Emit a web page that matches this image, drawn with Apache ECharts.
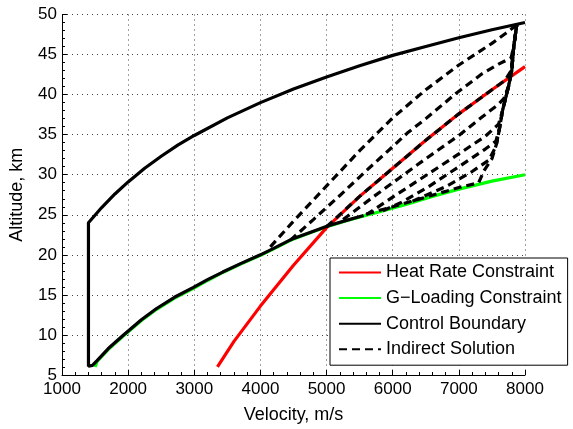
<!DOCTYPE html>
<html><head><meta charset="utf-8">
<script src="https://cdn.jsdelivr.net/npm/echarts@6/dist/echarts.min.js"></script>
<style>html,body{margin:0;padding:0;background:#fff}#c{width:573px;height:429px}</style>
</head><body><div id="c"></div>
<script>
// Control boundary (upper and lower edges)
const upperV = [1400,1600,1800,2000,2250,2500,2750,3000,3500,4000,4500,5000,5500,6000,6500,7000,7500,8000];
const upperH = [24.0,25.9,27.6,29.1,30.8,32.3,33.7,34.9,37.1,39.0,40.7,42.2,43.6,44.9,46.0,47.1,48.1,49.0];
const lowerV = [1400,1460,1530,1700,1930,2200,2430,2700,2980,3200,3430,3700,4000,4200,4460,4750,5015,5300,5560];
const lowerH = [6.1,6.2,6.8,8.3,10.0,11.9,13.3,14.7,15.9,16.9,17.85,18.9,20.0,20.8,21.9,22.8,23.6,24.3,24.9];
// G-loading constraint
const gV = [1500,1530,1700,1930,2200,2430,2700,2980,3200,3430,3700,4000,4200,4460,4750,5015,5300,5560,5817,6200,6600,7000,7500,8000];
const gH = [6.0,6.7,8.2,9.9,11.8,13.2,14.6,15.8,16.8,17.8,18.85,19.95,20.75,21.85,22.75,23.55,24.25,24.85,25.4,26.3,27.3,28.2,29.2,30.0];
// Heat rate constraint
const redV = [3350,3600,4000,4500,5000,5500,6000,6500,7000,7500,8000];
const redH = [6.0,9.2,13.6,18.7,23.4,27.3,30.8,34.3,37.6,40.6,43.5];
// Indirect solutions
const solA_V = [4150,4500,5000,5500,6000,6500,7000,7500,7700,7875];
const solA_H = [21.0,24.2,28.6,33.0,37.1,40.6,43.7,46.4,47.6,48.7];
const solB_V = [4450,4800,5200,5600,6000,6220,6500,6950,7350,7600,7790,7830,7875];
const solB_H = [21.8,24.4,27.4,30.5,33.5,35.2,37.0,40.1,42.6,43.8,44.6,46.0,48.7];
const solC_V = [5000,5500,6000,6500,7000,7500,7700,7790,7830,7875];
const solC_H = [23.5,27.3,30.8,34.3,37.6,40.6,41.8,43.0,46.0,48.7];
const solD_V = [5250,5700,6100,6500,7000,7350,7600,7680,7750,7800,7830,7875];
const solD_H = [24.4,27.2,29.6,32.0,34.9,37.2,38.8,39.5,41.0,43.0,46.0,48.7];
const solE_V = [5600,6000,6500,7000,7400,7600,7660,7750,7800,7830,7875];
const solE_H = [25.0,27.2,29.9,32.6,34.8,36.3,38.0,41.0,43.0,46.0,48.7];
const solF_V = [5850,6120,6540,7000,7400,7560,7620,7660,7750,7800,7830,7875];
const solF_H = [25.5,26.5,28.5,31.0,33.2,34.2,36.0,38.0,41.0,43.0,46.0,48.7];
const solG_V = [6300,6800,7200,7450,7560,7620,7660,7750,7800,7830,7875];
const solG_H = [26.7,28.5,30.4,31.8,33.5,36.0,38.0,41.0,43.0,46.0,48.7];
const solH_V = [5600,6000,6500,7000,7300,7380,7500,7575,7620,7660,7750,7800,7830,7875];
const solH_H = [25.1,26.0,27.2,28.4,29.0,30.5,32.0,34.0,36.0,38.0,41.0,43.0,46.0,48.7];
// Axis ticks
const xTicks = [1000,2000,3000,4000,5000,6000,7000,8000];
const yTicks = [5,10,15,20,25,30,35,40,45,50];

const zip = (a,b) => a.map((v,i) => [v,b[i]]);
const boundary = zip(upperV.slice().reverse(), upperH.slice().reverse()).concat(zip(lowerV, lowerH));
const sols = [[solA_V,solA_H],[solB_V,solB_H],[solC_V,solC_H],[solD_V,solD_H],[solE_V,solE_H],[solF_V,solF_H],[solG_V,solG_H],[solH_V,solH_H]];

const font = 'Liberation Sans, Arial, Helvetica, sans-serif';
const chart = echarts.init(document.getElementById('c'), null, {renderer:'canvas'});
const solidSeries = (name, data, color, z) => ({
  name, type:'line', data, symbol:'none', smooth:false, z,
  lineStyle:{color, width:3.2}, itemStyle:{color}
});
const series = [
  solidSeries('G\u2212Loading Constraint', zip(gV,gH), '#00ff00', 2),
  solidSeries('Heat Rate Constraint', zip(redV,redH), '#ff0000', 3),
  solidSeries('Control Boundary', boundary, '#000000', 4)
];
sols.forEach(s => series.push({
  name:'Indirect Solution', type:'line', data:zip(s[0],s[1]), symbol:'none', z:5,
  lineStyle:{color:'#000', width:3.2, type:[8,5]}, itemStyle:{color:'#000'}
}));

chart.setOption({
  animation:false,
  backgroundColor:'#fff',
  grid:{left:60, right:48, top:14.5, bottom:48.5, containLabel:false},
  xAxis:{
    type:'value', min:xTicks[0], max:xTicks[xTicks.length-1], interval:1000,
    name:'Velocity, m/s', nameLocation:'middle', nameGap:31,
    nameTextStyle:{fontFamily:font, fontSize:18, color:'#000'},
    axisLine:{lineStyle:{color:'#000', width:1}},
    axisTick:{inside:true, length:5, lineStyle:{color:'#000'}},
    minorTick:{show:true, splitNumber:5, length:3, lineStyle:{color:'#000'}},
    axisLabel:{fontFamily:font, fontSize:17, color:'#000', margin:6, formatter: v => String(v)},
    splitLine:{show:true, lineStyle:{color:'#444', width:1, type:[1,4]}}
  },
  yAxis:{
    type:'value', min:yTicks[0], max:yTicks[yTicks.length-1], interval:5,
    name:'Altitude, km', nameLocation:'middle', nameGap:36, nameRotate:90,
    nameTextStyle:{fontFamily:font, fontSize:18, color:'#000'},
    axisLine:{show:true, lineStyle:{color:'#000', width:1}},
    axisTick:{show:true, inside:true, length:5, lineStyle:{color:'#000'}},
    minorTick:{show:true, splitNumber:5, length:3, lineStyle:{color:'#000'}},
    axisLabel:{fontFamily:font, fontSize:17, color:'#000', margin:5, formatter: v => String(v)},
    splitLine:{show:true, lineStyle:{color:'#444', width:1, type:[1,4]}}
  },
  legend:{
    orient:'vertical', left:330, top:258,
    data:['Heat Rate Constraint','G\u2212Loading Constraint','Control Boundary','Indirect Solution'],
    itemWidth:42, itemHeight:14, itemGap:7.6,
    padding:[5.5,6,6.9,8],
    itemStyle:{opacity:0},
    backgroundColor:'#fff', borderColor:'#000', borderWidth:1, borderRadius:0,
    textStyle:{fontFamily:font, fontSize:18, color:'#000'},
    selectedMode:false
  },
  series
});
</script></body></html>
